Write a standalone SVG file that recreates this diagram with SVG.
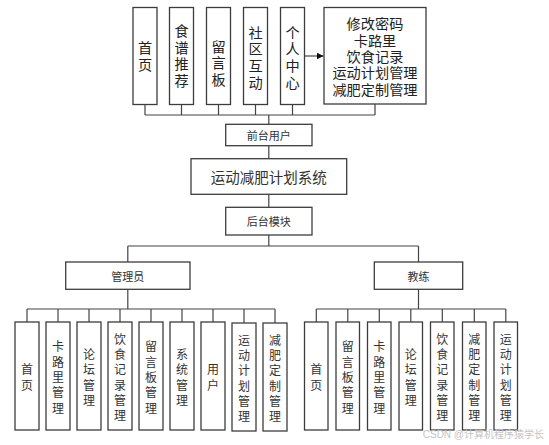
<svg xmlns="http://www.w3.org/2000/svg" width="549" height="445" viewBox="0 0 549 445">
<style>
.box{fill:#fff;stroke:#3c3c3c;stroke-width:1.3}
.ln{fill:none;stroke:#444;stroke-width:1.2}
.t{font-family:"Noto Sans CJK SC","Liberation Sans",sans-serif;fill:#222;text-anchor:middle;dominant-baseline:central}
.top{font-size:14.2px}
.mid{font-size:11px;fill:#333}
.sys{font-size:14.5px;fill:#333}
.bot{font-size:12px;fill:#333}
.wm{font-family:"Liberation Sans","Noto Sans CJK SC",sans-serif;font-size:10px;fill:#c4c4c4;text-anchor:end}
</style>
<defs>
<marker id="arr" viewBox="0 0 10 10" refX="10" refY="5" markerWidth="7" markerHeight="7" markerUnits="userSpaceOnUse" orient="auto">
<path d="M0 0L10 5L0 10z" fill="#111"/>
</marker>
</defs>
<rect width="549" height="445" fill="#fff"/>
<g id="connectors">
<path class="ln" d="M145 104.5V115M181.5 104.5V115M218.5 104.5V115M255.5 104.5V115M292.5 104.5V115M375 104V115M145 115H375M268.8 115V124.3"/>
<path class="ln" d="M304.5 56H323.5" marker-end="url(#arr)"/>
<path class="ln" d="M268.8 145.7V158.7M268.8 194.3V207.3M268.8 235V246M127.8 246H418.5M127.8 246V262M418.5 246V262"/>
<path class="ln" d="M127.8 289.3V309M27 309H275M27 309V322M58 309V322M89 309V322M120 309V322M151 309V322M182 309V322M213 309V322M244 309V323M275 309V323"/>
<path class="ln" d="M418.5 289.3V309M316.3 309H505.8M316.3 309V322M347.8 309V322M379.3 309V322M410.8 309V322M442.3 309V322M474.3 309V322M505.8 309V322"/>
</g>
<g id="n-home">
<rect class="box" x="133" y="7.5" width="24" height="97"/>
<text class="t top"><tspan x="145" y="47">首</tspan><tspan x="145" y="63.7">页</tspan></text>
</g>
<g id="n-recipe">
<rect class="box" x="169.5" y="7.5" width="24" height="97"/>
<text class="t top"><tspan x="181.5" y="30">食</tspan><tspan x="181.5" y="46.7">谱</tspan><tspan x="181.5" y="63.3">推</tspan><tspan x="181.5" y="80">荐</tspan></text>
</g>
<g id="n-msg">
<rect class="box" x="206.5" y="7.5" width="24" height="97"/>
<text class="t top"><tspan x="218.5" y="45.5">留</tspan><tspan x="218.5" y="62">言</tspan><tspan x="218.5" y="78.5">板</tspan></text>
</g>
<g id="n-community">
<rect class="box" x="243.5" y="7.5" width="24" height="97"/>
<text class="t top"><tspan x="255.5" y="31.7">社</tspan><tspan x="255.5" y="48.3">区</tspan><tspan x="255.5" y="65">互</tspan><tspan x="255.5" y="81.7">动</tspan></text>
</g>
<g id="n-personal">
<rect class="box" x="280.5" y="7.5" width="24" height="97"/>
<text class="t top"><tspan x="292.5" y="31.7">个</tspan><tspan x="292.5" y="48.3">人</tspan><tspan x="292.5" y="65">中</tspan><tspan x="292.5" y="81.7">心</tspan></text>
</g>
<g id="n-personal-items">
<rect class="box" x="324" y="7.5" width="102" height="96.5"/>
<text class="t top"><tspan x="375" y="23">修改密码</tspan><tspan x="375" y="39.5">卡路里</tspan><tspan x="375" y="56">饮食记录</tspan><tspan x="375" y="72">运动计划管理</tspan><tspan x="375" y="88.5">减肥定制管理</tspan></text>
</g>
<g id="n-front">
<rect class="box" x="225.7" y="124.3" width="86.3" height="21.4"/>
<text class="t mid" x="268.8" y="135">前台用户</text>
</g>
<g id="n-system">
<rect class="box" x="191" y="158.7" width="155.7" height="35.6"/>
<text class="t sys" x="268.8" y="176.5">运动减肥计划系统</text>
</g>
<g id="n-back">
<rect class="box" x="225.7" y="207.3" width="86.3" height="27.7"/>
<text class="t mid" x="268.8" y="221.2">后台模块</text>
</g>
<g id="n-admin">
<rect class="box" x="65.7" y="262" width="124.3" height="27.3"/>
<text class="t mid" x="127.8" y="275.7">管理员</text>
</g>
<g id="n-coach">
<rect class="box" x="374.3" y="262" width="88.4" height="27.3"/>
<text class="t mid" x="418.5" y="275.7">教练</text>
</g>
<g id="a-home">
<rect class="box" x="15" y="322" width="24" height="108"/>
<text class="t bot"><tspan x="27" y="368.4">首</tspan><tspan x="27" y="383.7">页</tspan></text>
</g>
<g id="a-cal">
<rect class="box" x="46" y="322" width="24" height="108"/>
<text class="t bot"><tspan x="58" y="345.4">卡</tspan><tspan x="58" y="360.7">路</tspan><tspan x="58" y="376">里</tspan><tspan x="58" y="391.3">管</tspan><tspan x="58" y="406.6">理</tspan></text>
</g>
<g id="a-forum">
<rect class="box" x="77" y="322" width="24" height="108"/>
<text class="t bot"><tspan x="89" y="353.1">论</tspan><tspan x="89" y="368.4">坛</tspan><tspan x="89" y="383.7">管</tspan><tspan x="89" y="399">理</tspan></text>
</g>
<g id="a-diet">
<rect class="box" x="108" y="322" width="24" height="108"/>
<text class="t bot"><tspan x="120" y="337.8">饮</tspan><tspan x="120" y="353.1">食</tspan><tspan x="120" y="368.4">记</tspan><tspan x="120" y="383.7">录</tspan><tspan x="120" y="399">管</tspan><tspan x="120" y="414.3">理</tspan></text>
</g>
<g id="a-msg">
<rect class="box" x="139" y="322" width="24" height="108"/>
<text class="t bot"><tspan x="151" y="345.4">留</tspan><tspan x="151" y="360.7">言</tspan><tspan x="151" y="376">板</tspan><tspan x="151" y="391.3">管</tspan><tspan x="151" y="406.6">理</tspan></text>
</g>
<g id="a-sys">
<rect class="box" x="170" y="322" width="24" height="108"/>
<text class="t bot"><tspan x="182" y="353.1">系</tspan><tspan x="182" y="368.4">统</tspan><tspan x="182" y="383.7">管</tspan><tspan x="182" y="399">理</tspan></text>
</g>
<g id="a-user">
<rect class="box" x="201" y="322" width="24" height="108"/>
<text class="t bot"><tspan x="213" y="368.4">用</tspan><tspan x="213" y="383.7">户</tspan></text>
</g>
<g id="a-plan">
<rect class="box" x="232" y="323" width="24" height="108"/>
<text class="t bot"><tspan x="244" y="338.8">运</tspan><tspan x="244" y="354.1">动</tspan><tspan x="244" y="369.4">计</tspan><tspan x="244" y="384.7">划</tspan><tspan x="244" y="400">管</tspan><tspan x="244" y="415.3">理</tspan></text>
</g>
<g id="a-custom">
<rect class="box" x="263" y="323" width="24" height="108"/>
<text class="t bot"><tspan x="275" y="338.8">减</tspan><tspan x="275" y="354.1">肥</tspan><tspan x="275" y="369.4">定</tspan><tspan x="275" y="384.7">制</tspan><tspan x="275" y="400">管</tspan><tspan x="275" y="415.3">理</tspan></text>
</g>
<g id="c-home">
<rect class="box" x="304.5" y="322" width="23.5" height="108"/>
<text class="t bot"><tspan x="316.3" y="368.4">首</tspan><tspan x="316.3" y="383.7">页</tspan></text>
</g>
<g id="c-msg">
<rect class="box" x="336" y="322" width="23.5" height="108"/>
<text class="t bot"><tspan x="347.8" y="345.4">留</tspan><tspan x="347.8" y="360.7">言</tspan><tspan x="347.8" y="376">板</tspan><tspan x="347.8" y="391.3">管</tspan><tspan x="347.8" y="406.6">理</tspan></text>
</g>
<g id="c-cal">
<rect class="box" x="367.5" y="322" width="23.5" height="108"/>
<text class="t bot"><tspan x="379.3" y="345.4">卡</tspan><tspan x="379.3" y="360.7">路</tspan><tspan x="379.3" y="376">里</tspan><tspan x="379.3" y="391.3">管</tspan><tspan x="379.3" y="406.6">理</tspan></text>
</g>
<g id="c-forum">
<rect class="box" x="399" y="322" width="23.5" height="108"/>
<text class="t bot"><tspan x="410.8" y="353.1">论</tspan><tspan x="410.8" y="368.4">坛</tspan><tspan x="410.8" y="383.7">管</tspan><tspan x="410.8" y="399">理</tspan></text>
</g>
<g id="c-diet">
<rect class="box" x="430.5" y="322" width="23.5" height="108"/>
<text class="t bot"><tspan x="442.3" y="337.8">饮</tspan><tspan x="442.3" y="353.1">食</tspan><tspan x="442.3" y="368.4">记</tspan><tspan x="442.3" y="383.7">录</tspan><tspan x="442.3" y="399">管</tspan><tspan x="442.3" y="414.3">理</tspan></text>
</g>
<g id="c-custom">
<rect class="box" x="462.5" y="322" width="23.5" height="108"/>
<text class="t bot"><tspan x="474.3" y="337.8">减</tspan><tspan x="474.3" y="353.1">肥</tspan><tspan x="474.3" y="368.4">定</tspan><tspan x="474.3" y="383.7">制</tspan><tspan x="474.3" y="399">管</tspan><tspan x="474.3" y="414.3">理</tspan></text>
</g>
<g id="c-plan">
<rect class="box" x="494" y="322" width="23.5" height="108"/>
<text class="t bot"><tspan x="505.8" y="337.8">运</tspan><tspan x="505.8" y="353.1">动</tspan><tspan x="505.8" y="368.4">计</tspan><tspan x="505.8" y="383.7">划</tspan><tspan x="505.8" y="399">管</tspan><tspan x="505.8" y="414.3">理</tspan></text>
</g>
<text class="wm" x="544" y="438">CSDN @计算机程序猿学长</text>
</svg>
